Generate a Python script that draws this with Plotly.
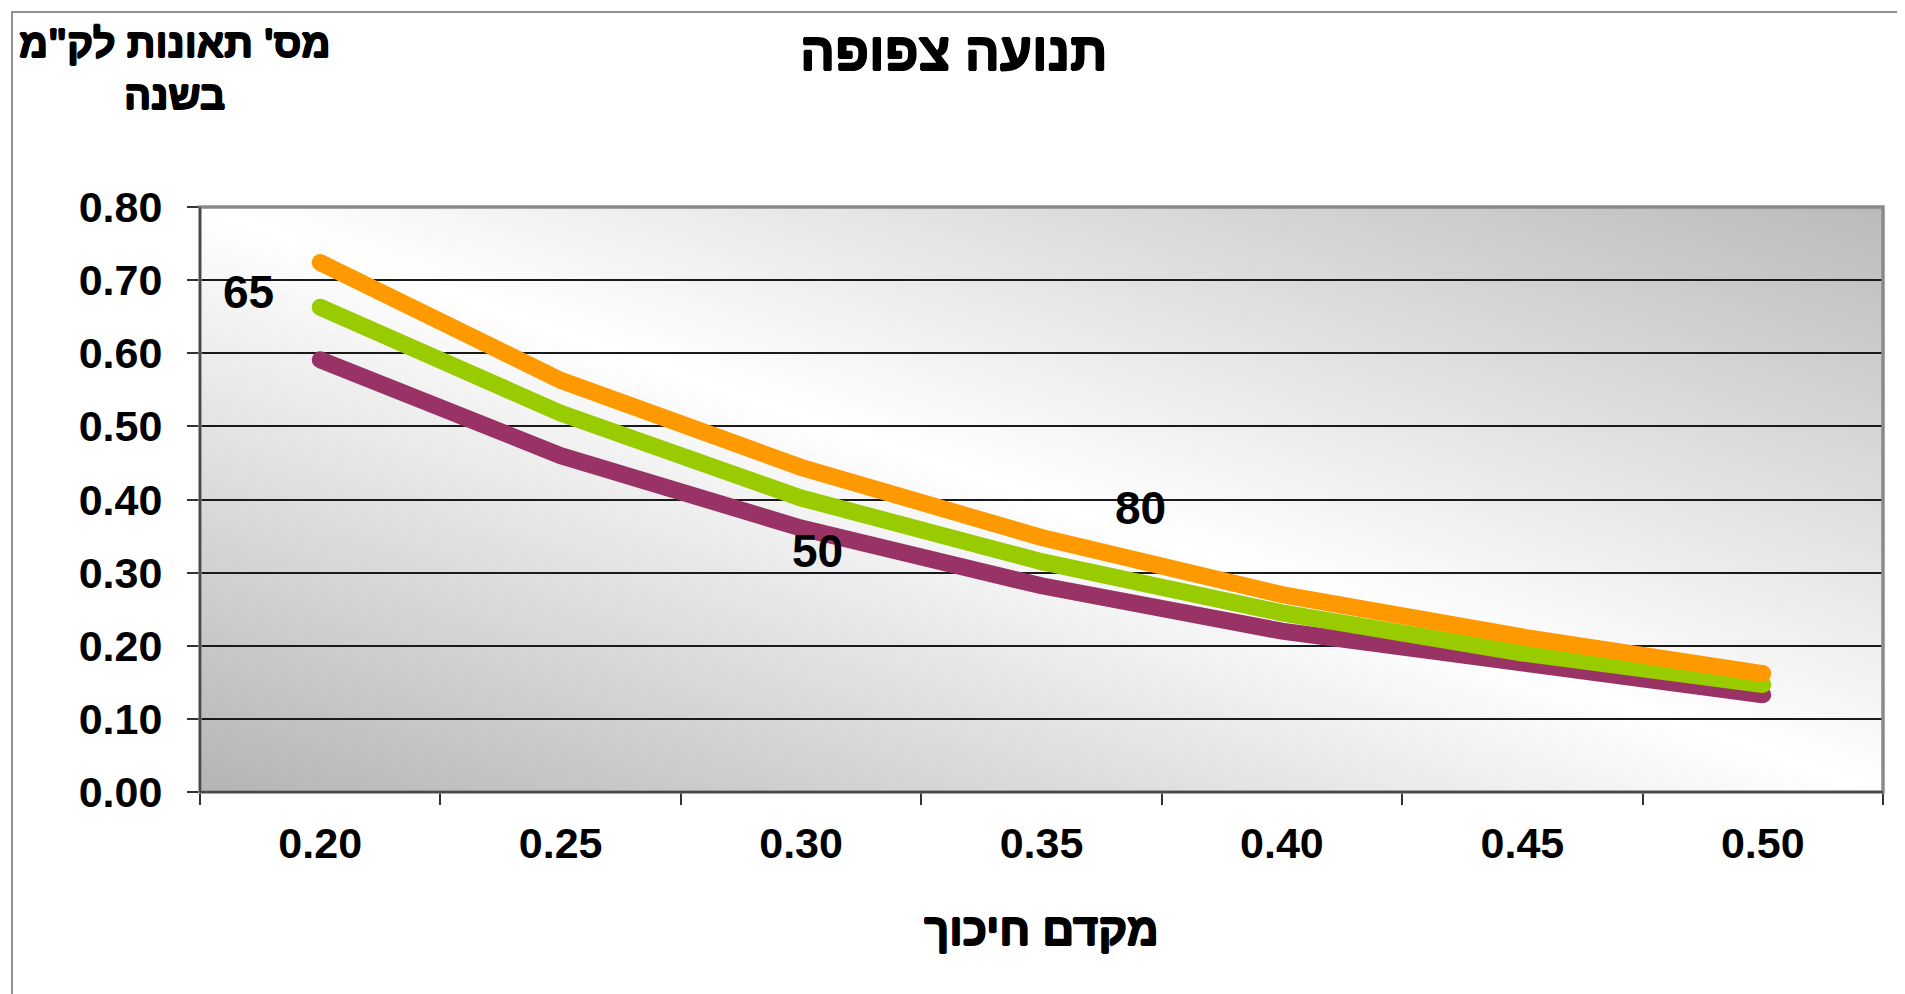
import base64
import plotly.graph_objects as go

# ---- data ----
friction = ["0.20", "0.25", "0.30", "0.35", "0.40", "0.45", "0.50"]
speed_50 = [0.591, 0.460, 0.361, 0.282, 0.220, 0.174, 0.133]
speed_65 = [0.663, 0.518, 0.402, 0.315, 0.245, 0.190, 0.147]
speed_80 = [0.724, 0.563, 0.444, 0.348, 0.270, 0.212, 0.162]
y_ticks = [0.0, 0.1, 0.2, 0.3, 0.4, 0.5, 0.6, 0.7, 0.8]

title_text = "תנועה צפופה"
y_title = "מס' תאונות לק\"מ<br>בשנה"
x_title = "מקדם חיכוך"

OFF = 8  # default page body margin
W, H = 1905 - OFF, 994 - OFF
L, R, T, B = 200 - OFF, 1883 - OFF, 207 - OFF, 792 - OFF
PW, PH = R - L, B - T


def px(x):
    return (x - OFF - L) / PW


def py(y):
    return (B - (y - OFF)) / PH


FONT = "Liberation Sans, Arial, sans-serif"
THICK = ("0.8px 0px 0px black, -0.8px 0px 0px black, 0px 0.6px 0px black, "
         "0px -0.6px 0px black")

svg = ("<svg xmlns='http://www.w3.org/2000/svg' width='100' height='100' viewBox='0 0 100 100' "
       "preserveAspectRatio='none'><defs><linearGradient id='g' x1='0' y1='1' x2='1' y2='0'>"
       "<stop offset='0' stop-color='#b4b4b4'/><stop offset='0.5' stop-color='#ffffff'/>"
       "<stop offset='1' stop-color='#bababa'/></linearGradient></defs>"
       "<rect width='100' height='100' fill='url(#g)'/></svg>")
svg_uri = "data:image/svg+xml;base64," + base64.b64encode(svg.encode()).decode()

fig = go.Figure()
series = [("50", speed_50, "#993366"), ("65", speed_65, "#99CC00"), ("80", speed_80, "#FF9900")]
end_sizes = [17, 0, 0, 0, 0, 0, 17]
for name, vals, col in series:
    fig.add_trace(go.Scatter(x=friction, y=vals, mode="lines+markers", name=name,
                             line=dict(color=col, width=17),
                             marker=dict(color=col, size=end_sizes, opacity=1, line=dict(width=0)),
                             showlegend=False, hoverinfo="skip"))

fig.update_layout(
    width=W, height=H,
    margin=dict(l=L, r=W - R, t=T, b=H - B, pad=0),
    paper_bgcolor="white",
    plot_bgcolor="rgba(0,0,0,0)",
    images=[dict(source=svg_uri, xref="paper", yref="paper", x=0, y=1, sizex=1, sizey=1,
                 sizing="stretch", xanchor="left", yanchor="top", layer="below")],
    font=dict(family=FONT, color="black"),
)

fig.update_xaxes(type="category", range=[-0.5, 6.5], tickson="boundaries",
                 ticks="outside", ticklen=12, tickwidth=1.5, tickcolor="#333",
                 showgrid=False, showline=False, zeroline=False,
                 tickfont=dict(family=FONT, size=43, weight="bold", color="black"),
                 ticklabelstandoff=22)
fig.update_yaxes(range=[0, 0.8], tickvals=y_ticks, tickformat=".2f",
                 ticks="outside", ticklen=12, tickwidth=1.5, tickcolor="#333",
                 showgrid=True, gridcolor="#1a1a1a", gridwidth=1.5,
                 showline=False, zeroline=False,
                 tickfont=dict(family=FONT, size=43, weight="bold", color="black"),
                 ticklabelstandoff=16)

shapes = [
    dict(type="rect", xref="paper", yref="paper", x0=px(12), x1=px(1925), y0=py(12), y1=py(1020),
         line=dict(color="#6e6e6e", width=1.5), fillcolor="rgba(0,0,0,0)", layer="above"),
    dict(type="rect", xref="paper", yref="paper", x0=0, x1=1, y0=0, y1=1,
         line=dict(color="#8a8a8a", width=3.5), fillcolor="rgba(0,0,0,0)", layer="above"),
    dict(type="line", xref="paper", yref="paper", x0=0, x1=0, y0=0, y1=1,
         line=dict(color="#333", width=1.5), layer="above"),
    dict(type="line", xref="paper", yref="paper", x0=0, x1=1, y0=0, y1=0,
         line=dict(color="#333", width=1.5), layer="above"),
]
fig.update_layout(shapes=shapes)

ann_font = dict(family=FONT, size=46, weight="bold", color="black")
annotations = [
    dict(text=title_text, xref="paper", yref="paper", x=px(953), y=py(52), showarrow=False,
         font=dict(family=FONT, size=52, weight="bold", color="black", shadow=THICK),
         xanchor="center", yanchor="middle"),
    dict(text=y_title, xref="paper", yref="paper", x=px(174), y=py(69), showarrow=False,
         font=dict(family=FONT, size=40, weight="bold", color="black", shadow=THICK), align="center",
         xanchor="center", yanchor="middle"),
    dict(text=x_title, xref="paper", yref="paper", x=px(1041), y=py(929), showarrow=False,
         font=dict(family=FONT, size=44, weight="bold", color="black", shadow=THICK),
         xanchor="center", yanchor="middle"),
    dict(text="65", x=-0.30, y=0.684, xref="x", yref="y", showarrow=False, font=ann_font),
    dict(text="80", x=3.41, y=0.389, xref="x", yref="y", showarrow=False, font=ann_font),
    dict(text="50", x=2.07, y=0.330, xref="x", yref="y", showarrow=False, font=ann_font),
]
fig.update_layout(annotations=annotations)

fig.write_html("out.html")
